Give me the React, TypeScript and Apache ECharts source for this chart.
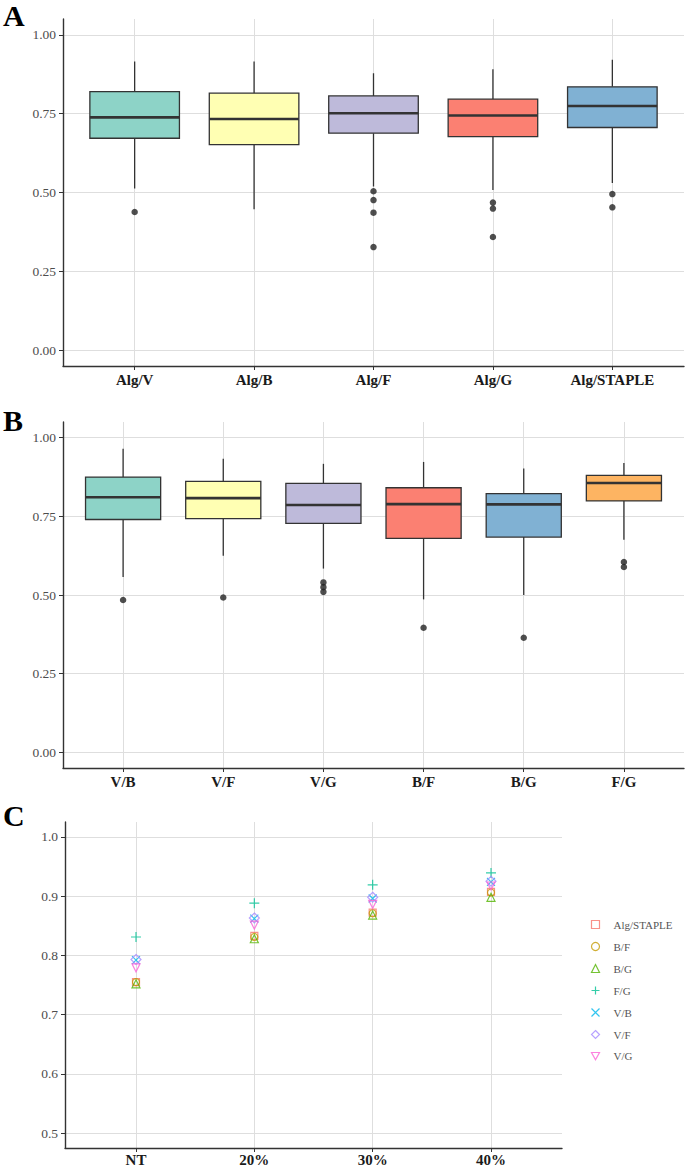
import React, { useEffect, useRef } from "react";
import * as echarts from "echarts";

// ---------- Panel A ----------
const catsA = ["Alg/V", "Alg/B", "Alg/F", "Alg/G", "Alg/STAPLE"];
// [lower whisker, Q1, median, Q3, upper whisker]
const boxA = [
  [0.513, 0.672, 0.738, 0.82, 0.915],
  [0.447, 0.652, 0.733, 0.815, 0.915],
  [0.519, 0.688, 0.751, 0.806, 0.878],
  [0.508, 0.677, 0.744, 0.796, 0.891],
  [0.53, 0.706, 0.774, 0.835, 0.921],
];
const outA = [[0.438], [], [0.504, 0.476, 0.436, 0.327], [0.468, 0.449, 0.359], [0.495, 0.453]];
const colorsA = ["#8DD3C7", "#FFFFB3", "#BEBADA", "#FB8072", "#80B1D3"];

// ---------- Panel B ----------
const catsB = ["V/B", "V/F", "V/G", "B/F", "B/G", "F/G"];
const boxB = [
  [0.557, 0.74, 0.811, 0.875, 0.965],
  [0.625, 0.743, 0.808, 0.861, 0.933],
  [0.584, 0.728, 0.786, 0.855, 0.917],
  [0.486, 0.68, 0.789, 0.841, 0.923],
  [0.5, 0.684, 0.788, 0.822, 0.902],
  [0.676, 0.799, 0.856, 0.88, 0.92],
];
const outB = [[0.484], [0.492], [0.54, 0.525, 0.51], [0.396], [0.364], [0.605, 0.589]];
const colorsB = ["#8DD3C7", "#FFFFB3", "#BEBADA", "#FB8072", "#80B1D3", "#FDB462"];

const ticksAB = [0, 0.25, 0.5, 0.75, 1];

// ---------- Panel C ----------
const catsC = ["NT", "20%", "30%", "40%"];
const namesC = ["Alg/STAPLE", "B/F", "B/G", "F/G", "V/B", "V/F", "V/G"];
const valsAlgSTAPLE = [0.755, 0.833, 0.872, 0.907];
const valsBF = [0.755, 0.831, 0.871, 0.906];
const valsBG = [0.752, 0.828, 0.868, 0.898];
const valsFG = [0.831, 0.888, 0.919, 0.939];
const valsVB = [0.792, 0.862, 0.896, 0.924];
const valsVF = [0.793, 0.863, 0.898, 0.925];
const valsVG = [0.779, 0.851, 0.886, 0.917];
const valsC = [valsAlgSTAPLE, valsBF, valsBG, valsFG, valsVB, valsVF, valsVG];
const colorsC = ["#F8766D", "#C49A00", "#53B400", "#00C094", "#00B6EB", "#A58AFF", "#FB61D7"];
const ticksC = [0.5, 0.6, 0.7, 0.8, 0.9, 1.0];

const SERIF = "'Liberation Serif', 'DejaVu Serif', serif";
const symbolsC = [
  "rect",
  "circle",
  "triangle",
  "path://M5,0L5,10M0,5L10,5",
  "path://M0,0L10,10M0,10L10,0",
  "diamond",
  "path://M0,0L10,0L5,9Z",
];
const sizesC = [7, 7, 8, 10, 8, 10, 8];
const GRID = "#dedede";

function xAxisCfg(gridIndex: number, cats: string[], margin: number) {
  const idx = cats.map((_, i) => i);
  return {
    gridIndex,
    type: "value",
    min: -0.6,
    max: cats.length - 0.4,
    axisLine: { show: true, onZero: false, lineStyle: { color: "#333", width: 1.4 } },
    axisTick: { show: true, customValues: idx, length: 4, lineStyle: { color: "#333", width: 1 } },
    axisLabel: {
      customValues: idx,
      formatter: (v: number) => cats[Math.round(v)],
      fontFamily: SERIF,
      fontWeight: "bold",
      fontSize: 15,
      color: "#1a1a1a",
      margin,
    },
    splitLine: { show: true, lineStyle: { color: GRID, width: 1 } },
  };
}

function yAxisCfg(gridIndex: number, min: number, max: number, ticks: number[], digits: number) {
  return {
    gridIndex,
    type: "value",
    min,
    max,
    axisLine: { show: true, onZero: false, lineStyle: { color: "#333", width: 1.4 } },
    axisTick: { show: true, customValues: ticks, length: 4, lineStyle: { color: "#333", width: 1 } },
    axisLabel: {
      customValues: ticks,
      formatter: (v: number) => v.toFixed(digits),
      fontFamily: SERIF,
      fontSize: 13.5,
      color: "#4d4d4d",
      margin: 7,
    },
    splitLine: { show: true, lineStyle: { color: GRID, width: 1 } },
  };
}

function boxSeries(gridIndex: number, boxes: number[][], colors: string[]) {
  return {
    type: "custom",
    xAxisIndex: gridIndex,
    yAxisIndex: gridIndex,
    data: boxes.map((b, i) => [i, ...b]),
    encode: { x: 0, y: [1, 2, 3, 4, 5] },
    renderItem: (params: any, api: any) => {
      const x = api.value(0);
      const pLo = api.coord([x, api.value(1)]);
      const pQ1 = api.coord([x, api.value(2)]);
      const pMed = api.coord([x, api.value(3)]);
      const pQ3 = api.coord([x, api.value(4)]);
      const pHi = api.coord([x, api.value(5)]);
      const w = api.size([0.75, 0])[0];
      const cx = pLo[0];
      const stroke = "#333333";
      return {
        type: "group",
        children: [
          { type: "line", shape: { x1: cx, y1: pHi[1], x2: cx, y2: pQ3[1] }, style: { stroke, lineWidth: 1.3 } },
          { type: "line", shape: { x1: cx, y1: pQ1[1], x2: cx, y2: pLo[1] }, style: { stroke, lineWidth: 1.3 } },
          {
            type: "rect",
            shape: { x: cx - w / 2, y: pQ3[1], width: w, height: pQ1[1] - pQ3[1] },
            style: { fill: colors[params.dataIndex], stroke, lineWidth: 1.3 },
          },
          {
            type: "line",
            shape: { x1: cx - w / 2, y1: pMed[1], x2: cx + w / 2, y2: pMed[1] },
            style: { stroke, lineWidth: 2.6 },
          },
        ],
      };
    },
  };
}

function outlierSeries(gridIndex: number, outs: number[][]) {
  const data: number[][] = [];
  outs.forEach((arr, i) => arr.forEach((v) => data.push([i, v])));
  return {
    type: "scatter",
    xAxisIndex: gridIndex,
    yAxisIndex: gridIndex,
    data,
    symbol: "circle",
    symbolSize: 6.5,
    itemStyle: { color: "#222222" },
    z: 5,
  };
}

export default function App() {
  const ref = useRef<HTMLDivElement>(null);
  useEffect(() => {
    if (!ref.current) return;
    const chart = echarts.init(ref.current, null, { renderer: "svg" });
    const seriesC = namesC.map((name, k) => ({
      type: "scatter",
      name,
      xAxisIndex: 2,
      yAxisIndex: 2,
      data: valsC[k].map((v, i) => [i, v]),
      symbol: symbolsC[k],
      symbolSize: sizesC[k],
      itemStyle: { color: "none", borderColor: colorsC[k], borderWidth: 1.2 },
      z: 3,
    }));
    chart.setOption({
      animation: false,
      backgroundColor: "#ffffff",
      grid: [
        { left: 63, top: 19, width: 621, height: 347 },
        { left: 63, top: 422, width: 621, height: 346 },
        { left: 65, top: 822, width: 497, height: 326 },
      ],
      xAxis: [xAxisCfg(0, catsA, 6), xAxisCfg(1, catsB, 6), xAxisCfg(2, catsC, 4)],
      yAxis: [
        yAxisCfg(0, -0.05, 1.05, ticksAB, 2),
        yAxisCfg(1, -0.05, 1.05, ticksAB, 2),
        yAxisCfg(2, 0.475, 1.025, ticksC, 1),
      ],
      legend: {
        orient: "vertical",
        left: 589,
        top: 918,
        padding: 0,
        itemWidth: 8,
        itemHeight: 8,
        itemGap: 9,
        textStyle: { fontFamily: SERIF, fontSize: 11, color: "#555", padding: [0, 0, 0, 9] },
        data: namesC.map((name, k) => ({
          name,
          icon: symbolsC[k],
          itemStyle: { color: "none", borderColor: colorsC[k], borderWidth: 1.2 },
        })),
      },
      graphic: [
        { type: "text", x: 3, y: 15, style: { text: "A", font: `bold 30px ${SERIF}`, fill: "#000", verticalAlign: "middle" } },
        { type: "text", x: 3, y: 420, style: { text: "B", font: `bold 30px ${SERIF}`, fill: "#000", verticalAlign: "middle" } },
        { type: "text", x: 3, y: 815, style: { text: "C", font: `bold 30px ${SERIF}`, fill: "#000", verticalAlign: "middle" } },
      ],
      series: [
        boxSeries(0, boxA, colorsA),
        outlierSeries(0, outA),
        boxSeries(1, boxB, colorsB),
        outlierSeries(1, outB),
        ...seriesC,
      ],
    });
    return () => chart.dispose();
  }, []);
  return (
    <div
      ref={ref}
      style={{ position: "absolute", left: 0, top: 0, width: 685, height: 1168, background: "#fff" }}
    />
  );
}
